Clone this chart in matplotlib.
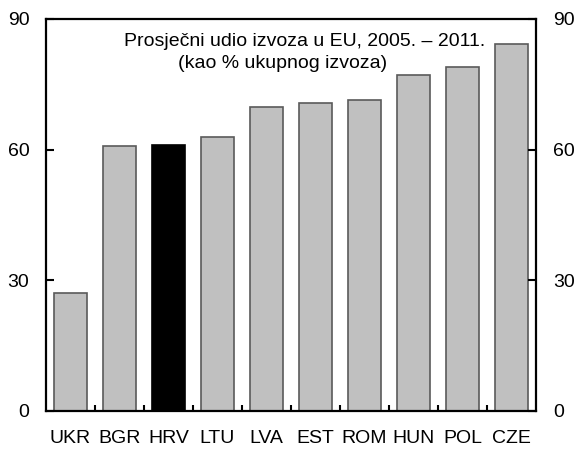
import matplotlib.pyplot as plt
import numpy as np

plt.rcParams['font.family'] = ['Liberation Sans', 'DejaVu Sans']

countries = ["UKR", "BGR", "HRV", "LTU", "LVA", "EST", "ROM", "HUN", "POL", "CZE"]
share = [27.1, 60.9, 61.1, 62.9, 69.7, 70.6, 71.3, 77.1, 79.0, 84.2]
highlight = "HRV"

colors = ["black" if c == highlight else "#c0c0c0" for c in countries]
edges = ["black" if c == highlight else "#5a5a5a" for c in countries]

W, H = 574, 450
fig = plt.figure(figsize=(W / 100, H / 100), dpi=100)
ax = fig.add_axes([0.080, 0.087, 0.854, 0.871])

x = np.arange(len(countries))
ax.bar(x, share, width=0.67, color=colors, edgecolor=edges, linewidth=1.2)

ax.set_xlim(-0.5, len(countries) - 0.5)
ax.set_ylim(0, 90)
ax.set_yticks([0, 30, 60, 90])
ax.set_xticks(x)
ax.set_xticklabels(countries)
ax.set_xticks(x[:-1] + 0.5, minor=True)

ax.tick_params(axis='x', which='major', length=0, pad=14, labelsize=14)
ax.tick_params(axis='x', which='minor', direction='in', length=4, width=1.5)
ax.tick_params(axis='y', direction='in', length=6, width=1.5, labelsize=14,
               left=True, right=True, labelleft=True, labelright=True, pad=12)

for s in ax.spines.values():
    s.set_linewidth(1.6)

# two-line caption inside the plot area (pixel positions from top-left)
fig.text(305 / W, 1 - 42 / H, "Prosječni udio izvoza u EU, 2005. – 2011.",
         fontsize=14, ha='center', va='center')
fig.text(283 / W, 1 - 63 / H, "(kao % ukupnog izvoza)",
         fontsize=14, ha='center', va='center')

plt.savefig("out.png", dpi=100)
